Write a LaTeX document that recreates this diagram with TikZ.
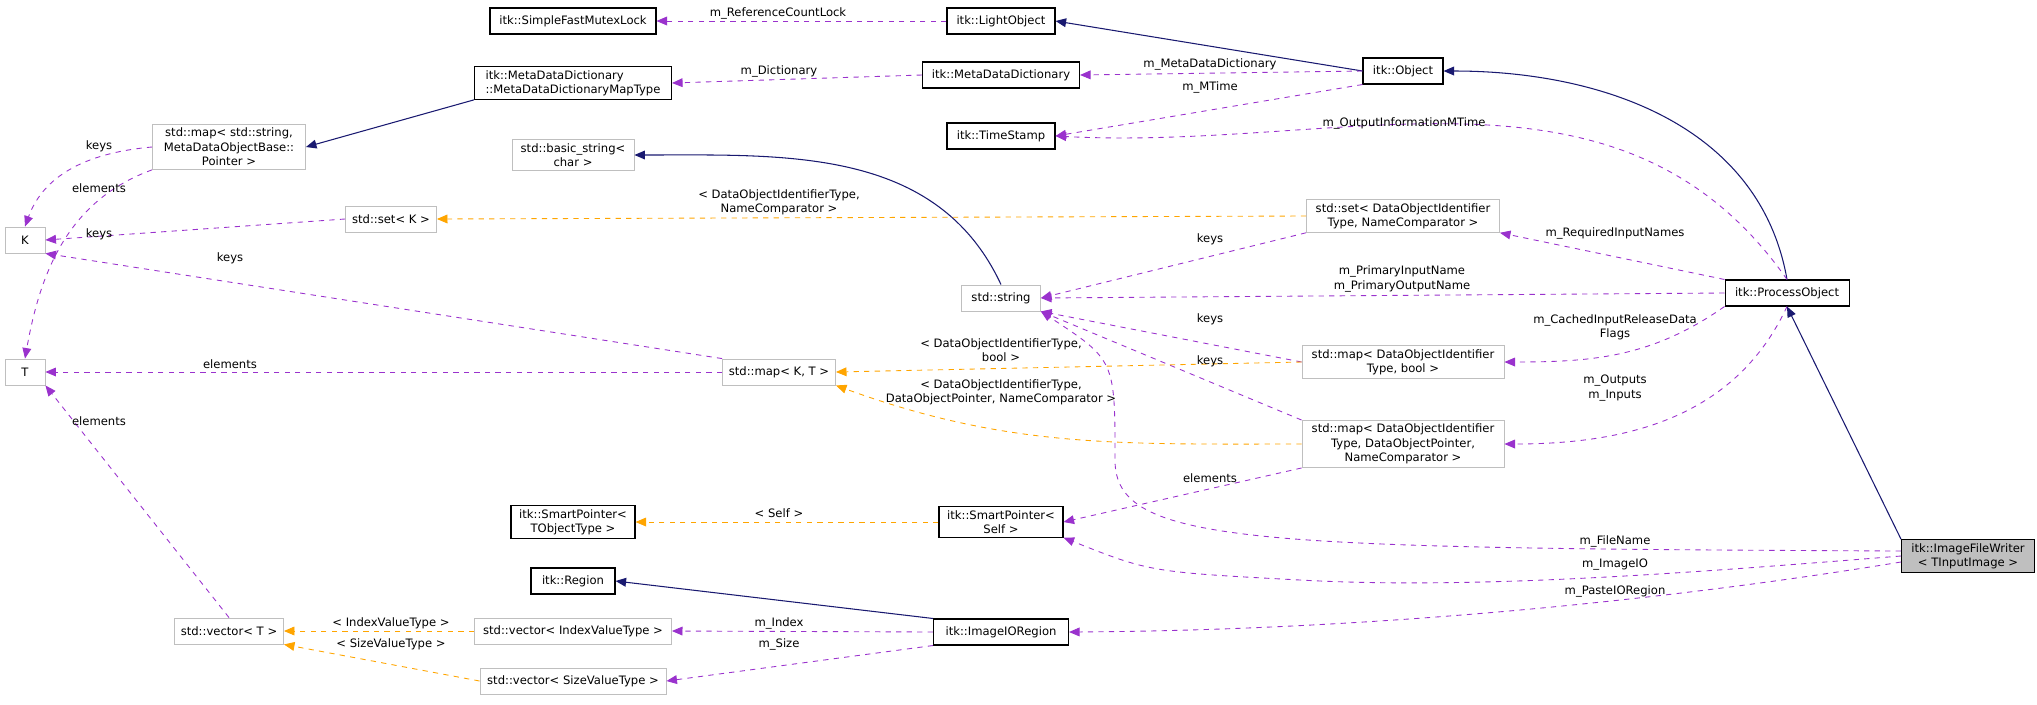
\documentclass[tikz,border=0pt]{standalone}
\usepackage{fontspec}
\setmainfont{DejaVu Sans}
\usetikzlibrary{arrows.meta}
\definecolor{usecol}{HTML}{9A32CD}
\definecolor{tplcol}{HTML}{FFA500}
\definecolor{inhcol}{HTML}{191970}
\definecolor{extcol}{HTML}{BFBFBF}
\tikzset{
  cls/.style={draw=black, line width=0.6pt, fill=white, align=center, inner sep=2pt,
    minimum height=26*0.02cm, font=\fontsize{6.6}{8.2}\selectfont},
  ext/.style={cls, draw=extcol, line width=0.5pt},
  cur/.style={cls, fill=extcol},
  lbl/.style={font=\fontsize{6.6}{8.2}\selectfont, align=center, inner sep=0pt},
  inh/.style={draw=inhcol, line width=0.6pt, -{Triangle[length=6pt,width=5pt]}},
  use/.style={draw=usecol, dashed, line width=0.5pt, -{Triangle[length=6pt,width=5pt]}},
  tpl/.style={draw=tplcol, dashed, line width=0.5pt, -{Triangle[length=6pt,width=5pt]}},
}
\begin{document}
\begin{tikzpicture}[x=0.02cm, y=-0.02cm]
  \useasboundingbox (0,0) rectangle (2037,704);
  % classes
  \node[cls, minimum width=166*0.02cm] (mutex) at (573,21) {itk::SimpleFastMutexLock};
  \node[cls, minimum width=108*0.02cm] (light) at (1001,21) {itk::LightObject};
  \node[cls, minimum width=80*0.02cm] (obj) at (1403,71) {itk::Object};
  \node[cls, minimum width=197*0.02cm, align=left] (maptype) at (573,83) {itk::MetaDataDictionary\\::MetaDataDictionaryMapType};
  \node[cls, minimum width=157*0.02cm] (mdd) at (1001,75) {itk::MetaDataDictionary};
  \node[cls, minimum width=108*0.02cm] (stamp) at (1001,136) {itk::TimeStamp};
  \node[ext, minimum width=153*0.02cm] (mapstr) at (229,147) {std::map< std::string,\\MetaDataObjectBase::\\Pointer >};
  \node[ext, minimum width=122*0.02cm] (bstr) at (573,155) {std::basic\_string<\\char >};
  \node[ext, minimum width=40*0.02cm] (K) at (25,240) {K};
  \node[ext, minimum width=91*0.02cm] (setK) at (391,219) {std::set< K >};
  \node[ext, minimum width=193*0.02cm] (setDOI) at (1403,216) {std::set< DataObjectIdentifier\\Type, NameComparator >};
  \node[ext, minimum width=79*0.02cm] (str) at (1001,298) {std::string};
  \node[cls, minimum width=124*0.02cm] (proc) at (1787,293) {itk::ProcessObject};
  \node[ext, minimum width=40*0.02cm] (T) at (25,372) {T};
  \node[ext, minimum width=113*0.02cm] (mapKT) at (779,372) {std::map< K, T >};
  \node[ext, minimum width=202*0.02cm] (mapbool) at (1403,362) {std::map< DataObjectIdentifier\\Type, bool >};
  \node[ext, minimum width=202*0.02cm] (mapptr) at (1403,444) {std::map< DataObjectIdentifier\\Type, DataObjectPointer,\\NameComparator >};
  \node[cls, minimum width=124*0.02cm] (sptrT) at (573,522) {itk::SmartPointer<\\TObjectType >};
  \node[cls, minimum width=124*0.02cm] (sptrS) at (1001,522) {itk::SmartPointer<\\Self >};
  \node[cur, minimum width=133*0.02cm] (writer) at (1968,556) {itk::ImageFileWriter\\< TInputImage >};
  \node[cls, minimum width=84*0.02cm] (region) at (573,581) {itk::Region};
  \node[ext, minimum width=109*0.02cm] (vecT) at (229,631) {std::vector< T >};
  \node[ext, minimum width=197*0.02cm] (vecIdx) at (573,631) {std::vector< IndexValueType >};
  \node[cls, minimum width=135*0.02cm] (ioreg) at (1001,632) {itk::ImageIORegion};
  \node[ext, minimum width=186*0.02cm] (vecSize) at (573,681) {std::vector< SizeValueType >};

  % inheritance
  \draw[inh] (obj.west) -- (light.east);
  \draw[inh] (proc.north) to[out=100, in=0] (obj.east);
  \draw[inh] (writer.north west) -- (proc.south);
  \draw[inh] (maptype.south west) -- (mapstr.east);
  \draw[inh] (str.north) to[out=115, in=0] (bstr.east);
  \draw[inh] (ioreg.north west) -- (region.east);

  % members
  \draw[use] (light.west) -- (mutex.east);
  \draw[use] (mdd.west) -- (maptype.east);
  \draw[use] (obj.west) -- (mdd.east);
  \draw[use] (obj.south west) -- (stamp.east);
  \draw[use] (proc.north) to[out=125, in=-3] (stamp.east);
  \draw[use] (proc.north west) -- (setDOI.south east);
  \draw[use] (proc.west) -- (str.east);
  \draw[use] (proc.south west) to[out=-145, in=0] (mapbool.east);
  \draw[use] (proc.south) to[out=-115, in=0] (mapptr.east);
  \draw[use] (setDOI.south west) -- (str.east);
  \draw[use] (mapbool.west) -- (str.south east);
  \draw[use] (mapptr.north west) -- (str.south east);
  \draw[use] (mapptr.south west) -- (sptrS.east);
  \draw[use] ([yshift=0.1cm]writer.west) .. controls (1250,548) and (1115,545) .. (1115,460) .. controls (1115,360) .. (str.south east);
  \draw[use] (writer.west) .. controls (1700,572) and (1480,590) .. (1300,580) .. controls (1150,572) .. (sptrS.south east);
  \draw[use] ([yshift=-0.12cm]writer.west) .. controls (1700,595) and (1400,630) .. (ioreg.east);
  \draw[use] (ioreg.west) -- (vecIdx.east);
  \draw[use] (ioreg.south west) -- (vecSize.east);
  \draw[use] (mapstr.west) to[out=185, in=70] (K.north);
  \draw[use] (mapstr.south west) to[out=200, in=80] (T.north);
  \draw[use] (setK.west) -- (K.east);
  \draw[use] (mapKT.north west) -- (K.south east);
  \draw[use] (mapKT.west) -- (T.east);
  \draw[use] (vecT.north) -- (T.south east);

  % templates
  \draw[tpl] (setDOI.west) -- (setK.east);
  \draw[tpl] (mapbool.west) -- (mapKT.east);
  \draw[tpl] (mapptr.west) to[out=180, in=-20] (mapKT.south east);
  \draw[tpl] (sptrS.west) -- (sptrT.east);
  \draw[tpl] (vecIdx.west) -- (vecT.east);
  \draw[tpl] (vecSize.west) -- (vecT.south east);

  % labels
  \node[lbl] (lRef) at (778,13) {m\_ReferenceCountLock};
  \node[lbl] (lDict) at (779,71) {m\_Dictionary};
  \node[lbl] (lMdd) at (1210,64) {m\_MetaDataDictionary};
  \node[lbl] (lMTime) at (1210,87) {m\_MTime};
  \node[lbl] (lOut) at (1404,123) {m\_OutputInformationMTime};
  \node[lbl] (lSetT) at (779,202) {< DataObjectIdentifierType,\\NameComparator >};
  \node[lbl] (lKeys1) at (1210,239) {keys};
  \node[lbl] (lPrim) at (1402,279) {m\_PrimaryInputName\\m\_PrimaryOutputName};
  \node[lbl] (lKeys2) at (1210,319) {keys};
  \node[lbl] (lBoolT) at (1001,350) {< DataObjectIdentifierType,\\bool >};
  \node[lbl] (lKeys3) at (1210,361) {keys};
  \node[lbl] (lPtrT) at (1001,392) {< DataObjectIdentifierType,\\DataObjectPointer, NameComparator >};
  \node[lbl] (lElem1) at (1210,478) {elements};
  \node[lbl] (lSelf) at (779,513) {< Self >};
  \node[lbl] (lIndex) at (779,623) {m\_Index};
  \node[lbl] (lSize) at (779,644) {m\_Size};
  \node[lbl] (lReq) at (1615,233) {m\_RequiredInputNames};
  \node[lbl] (lCache) at (1615,327) {m\_CachedInputReleaseData\\Flags};
  \node[lbl] (lIO) at (1615,388) {m\_Outputs\\m\_Inputs};
  \node[lbl] (lFile) at (1615,541) {m\_FileName};
  \node[lbl] (lImgIO) at (1615,565) {m\_ImageIO};
  \node[lbl] (lPaste) at (1615,591) {m\_PasteIORegion};
  \node[lbl] (lKeys4) at (99,146) {keys};
  \node[lbl] (lElem2) at (99,188) {elements};
  \node[lbl] (lKeys5) at (99,234) {keys};
  \node[lbl] (lKeys6) at (230,258) {keys};
  \node[lbl] (lElem3) at (230,364) {elements};
  \node[lbl] (lElem4) at (99,421) {elements};
  \node[lbl] (lIdxT) at (391,623) {< IndexValueType >};
  \node[lbl] (lSizeT) at (391,644) {< SizeValueType >};
\end{tikzpicture}
\end{document}
